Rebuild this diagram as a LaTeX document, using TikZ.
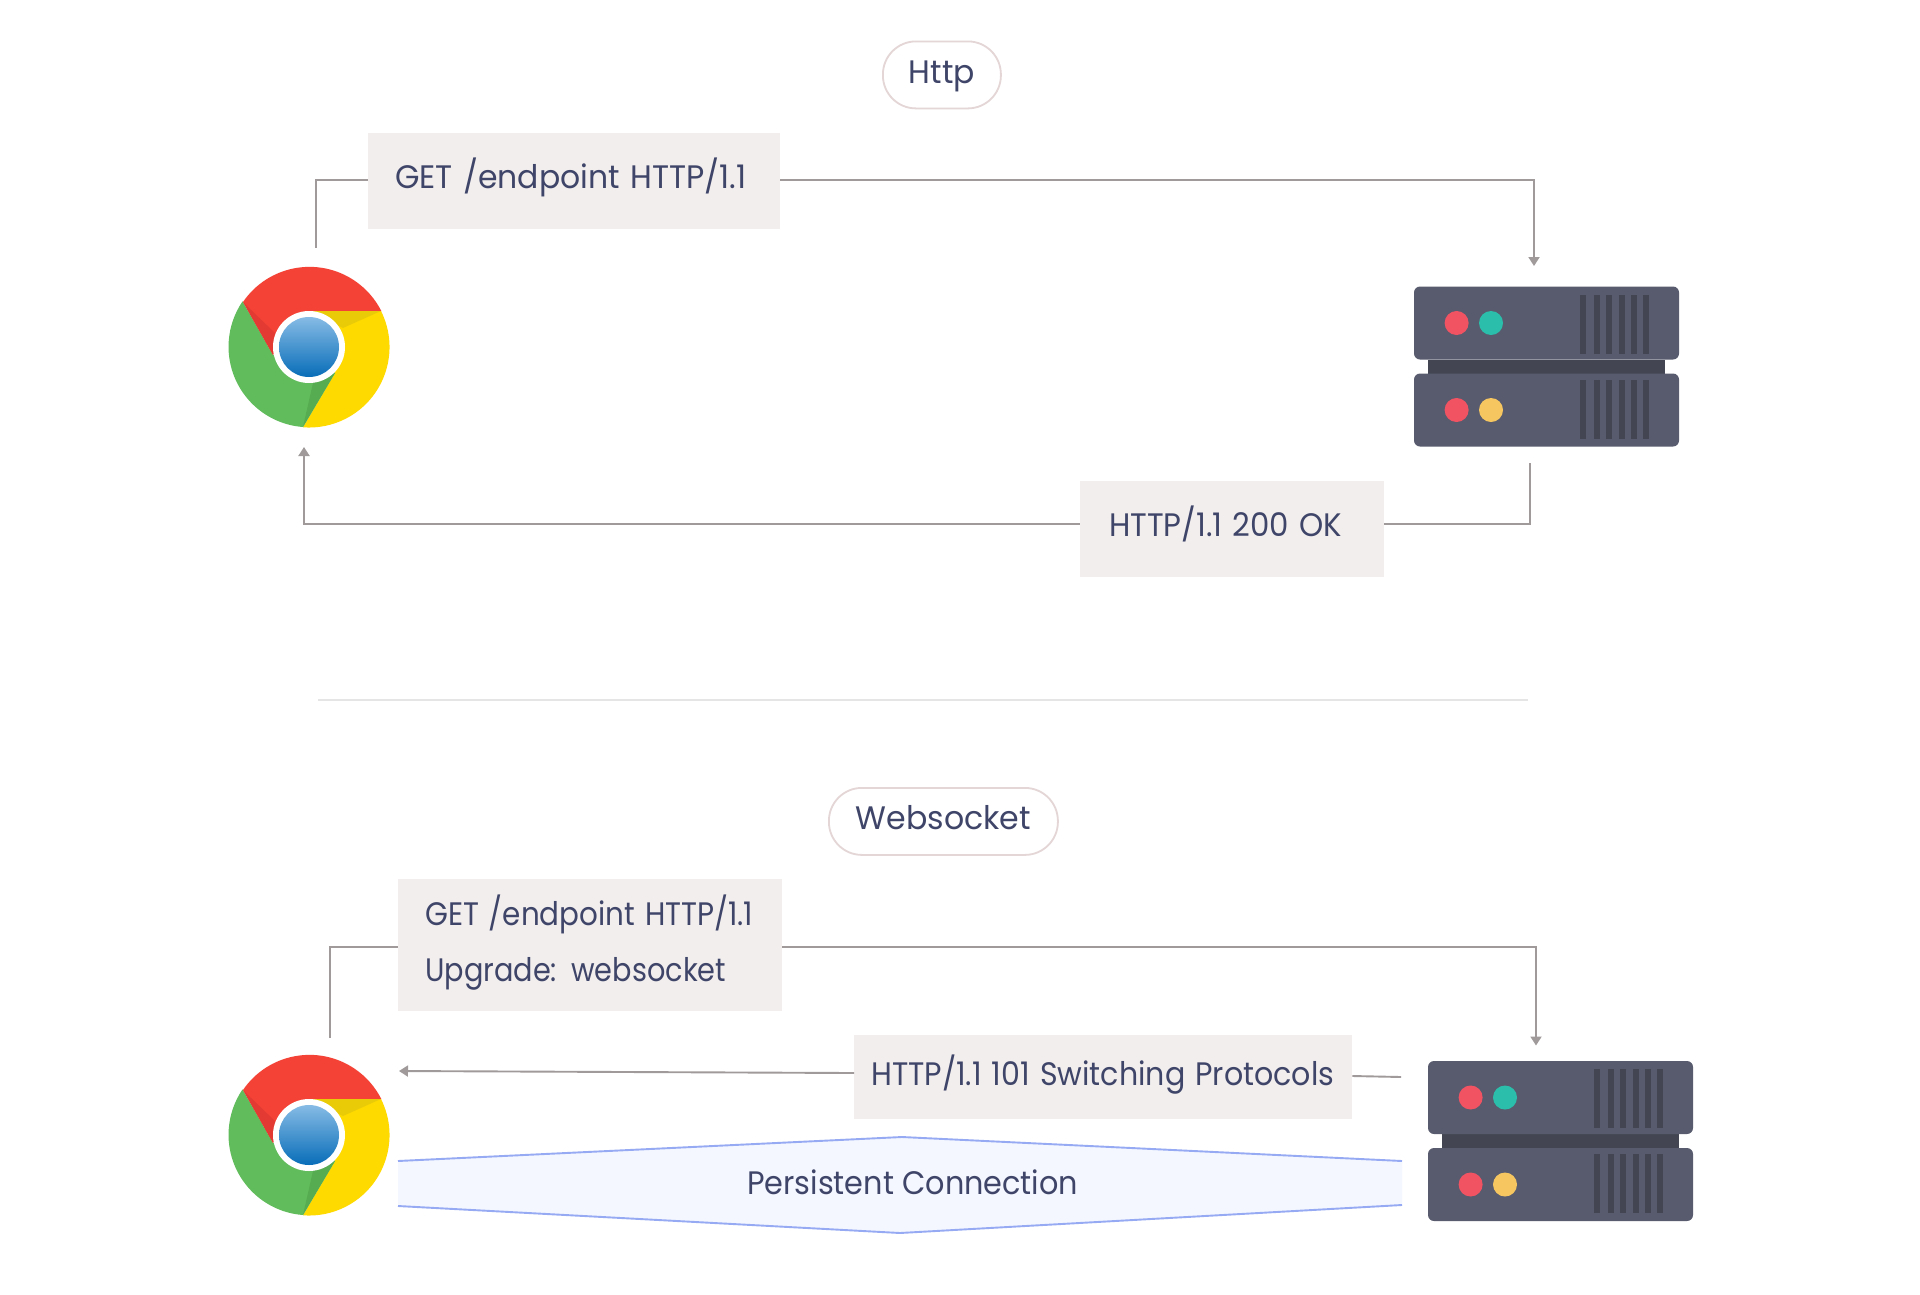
\documentclass[tikz,border=0pt]{standalone}
\usepackage{graphicx}
\usepackage{fontspec}
\setmainfont{Poppins}
\usetikzlibrary{arrows.meta}
\definecolor{ink}{HTML}{3F4568}
\definecolor{boxfill}{HTML}{F2EEEE}
\definecolor{conn}{HTML}{A09A9A}
\definecolor{pillline}{HTML}{E4D5D6}
\definecolor{sep}{HTML}{E5E5E5}
\definecolor{srvA}{HTML}{585B6D}
\definecolor{srvB}{HTML}{434652}
\definecolor{cRed}{HTML}{F44336}
\definecolor{cGreen}{HTML}{61BC5B}
\definecolor{cYellow}{HTML}{FFDA00}
\definecolor{dRed}{HTML}{E33B33}
\definecolor{dGreen}{HTML}{56AC50}
\definecolor{dYellow}{HTML}{EACB08}
\definecolor{bTop}{HTML}{86BBE5}
\definecolor{bBot}{HTML}{086DB8}
\definecolor{pr}{HTML}{F25363}
\definecolor{pt}{HTML}{2BBFAB}
\definecolor{py}{HTML}{F6C660}
\definecolor{persFill}{HTML}{F4F7FF}
\definecolor{persLine}{HTML}{96A9F3}
\newcommand{\fitw}[2]{\resizebox{#1}{\height}{#2}}
\tikzset{
 x=1pt,y=-1pt,
 lbl/.style={anchor=north west,fill=boxfill,inner ysep=0pt,text=ink,align=left,font=\fontsize{32.5}{56}\selectfont},
 pill/.style={anchor=north west,draw=pillline,line width=1.8pt,rounded corners=33pt,fill=white,inner ysep=0pt,text=ink,text height=42pt,text depth=25pt,font=\fontsize{32.5}{40}\selectfont},
 plain/.style={anchor=base west,inner sep=0pt,text=ink,font=\fontsize{32.5}{40}\selectfont},
 wire/.style={draw=conn,line width=1.9pt},
 wirea/.style={wire,-{Triangle[width=11pt,length=9pt]}}
}
\newcommand{\chromeicon}[2]{%
\begin{scope}[shift={(#1,#2)}]
\fill[cRed] (-66,-45) arc[start angle=214.3,end angle=333.4,radius=80.5] -- (0,-36) -- (-36,8) -- cycle;
\fill[cYellow] (72,-36) arc[start angle=-26.6,end angle=94.3,radius=80.5] -- (26,26) -- (0,0) -- (0,-36) -- cycle;
\fill[cGreen] (-6,80) arc[start angle=94.3,end angle=214.3,radius=80.5] -- (-36,8) -- (0,0) -- (26,26) -- cycle;
\fill[dRed] (-66,-45) -- (-36,8) -- (-34,-14) -- cycle;
\fill[dGreen] (-6,80) -- (26,26) -- (4,36) -- cycle;
\fill[dYellow] (72,-36) -- (0,-36) -- (34,-19) -- cycle;
\fill[white] (0,0) circle[radius=36];
\shade[top color=bTop,bottom color=bBot] (0,0) circle[radius=30];
\end{scope}}
\newcommand{\servericon}[2]{%
\begin{scope}[shift={(#1,#2)}]
\fill[srvB] (14,73) rectangle (251,87);
\fill[srvA,rounded corners=6pt] (0,0) rectangle (265,73);
\fill[srvA,rounded corners=6pt] (0,87) rectangle (265,160);
\fill[pr] (42.6,36.5) circle[radius=12]; \fill[pt] (77,36.5) circle[radius=12];
\fill[pr] (42.6,123.5) circle[radius=12]; \fill[py] (77,123.5) circle[radius=12];
\foreach \xx in {166,180,192,205,217,229}{
 \fill[srvB] (\xx,8) rectangle ++(6,59);
 \fill[srvB] (\xx,93) rectangle ++(6,59);}
\end{scope}}
\begin{document}
\begin{tikzpicture}
\useasboundingbox (0,0) rectangle (1920,1294);
\fill[white] (0,0) rectangle (1920,1294);
\chromeicon{309}{347}
\chromeicon{309}{1135}
\servericon{1414}{286.5}
\servericon{1428}{1061}
\node[pill,inner xsep=26pt,text width=66pt] (http) at (882,40.5) {\fitw{66pt}{Http}};
\node[pill,inner xsep=27pt,text width=175pt] (ws) at (828,787) {\fitw{175pt}{Websocket}};
\coordinate (s1) at (318,700);
\coordinate (s2) at (1528,700);
\draw[draw=sep,line width=1.6pt] (s1) -- (s2);
\coordinate (a1) at (316,248);
\coordinate (a2) at (1534,266);
\node[lbl,inner xsep=27pt,text width=358pt,text height=56pt,text depth=40pt] (g1) at (368,132.5) {\fitw{351pt}{GET /endpoint HTTP/1.1}};
\draw[wire] (a1) |- (g1.west|-0,180);
\draw[wirea] (g1.east|-0,180) -| (a2);
\coordinate (b1) at (1530,463);
\coordinate (b2) at (304,447);
\node[lbl,inner xsep=29pt,text width=246pt,text height=56pt,text depth=40pt] (r1) at (1080,480.5) {\fitw{233pt}{HTTP/1.1 200 OK}};
\draw[wire] (b1) |- (r1.east|-0,524);
\draw[wirea] (r1.west|-0,524) -| (b2);
\coordinate (c1) at (330,1038);
\coordinate (c2) at (1536,1045.5);
\node[lbl,inner xsep=27pt,text width=330pt,text height=46pt,text depth=86pt] (g2) at (398,879) {\fitw{328pt}{GET /endpoint HTTP/1.1}\\\fitw{301pt}{Upgrade: websocket}};
\draw[wire] (c1) |- (g2.west|-0,947);
\draw[wirea] (g2.east|-0,947) -| (c2);
\coordinate (d1) at (1401,1077);
\coordinate (d2) at (399,1071);
\node[lbl,inner xsep=17pt,text width=464pt,text height=50pt,text depth=34pt] (r2) at (854,1035) {\fitw{463pt}{HTTP/1.1 101 Switching Protocols}};
\draw[wire] (d1) -- (r2.east|-0,1076);
\draw[wirea] (r2.west|-0,1073) -- (d2);
\coordinate (p1) at (398,1161);
\coordinate (p2) at (902,1137);
\coordinate (p3) at (1402,1161);
\coordinate (p4) at (1402,1205);
\coordinate (p5) at (900,1233);
\coordinate (p6) at (398,1206);
\fill[persFill] (p1) -- (p2) -- (p3) -- (p4) -- (p5) -- (p6) -- cycle;
\draw[draw=persLine,line width=1.9pt] (p1) -- (p2) -- (p3);
\draw[draw=persLine,line width=1.9pt] (p6) -- (p5) -- (p4);
\node[plain] (pc) at (747,1194.5) {\fitw{331pt}{Persistent Connection}};
\end{tikzpicture}
\end{document}
